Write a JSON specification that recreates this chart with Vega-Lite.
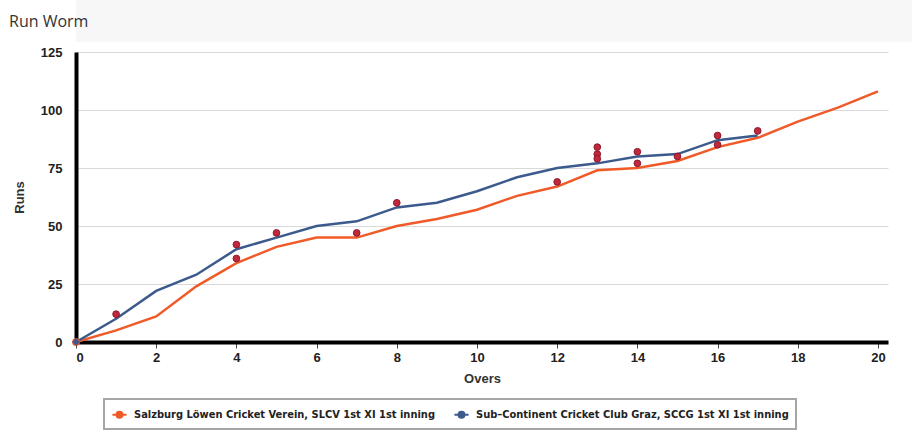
{
  "$schema": "https://vega.github.io/schema/vega-lite/v6.json",
  "padding": {"left": 9, "top": 0, "right": 0, "bottom": 0},
  "background": "white",
  "spacing": 4,
  "align": "none",
  "datasets": {
    "innings": [
      {"team": "Salzburg Löwen Cricket Verein, SLCV 1st XI 1st inning", "over": 0, "runs": 0},
      {"team": "Salzburg Löwen Cricket Verein, SLCV 1st XI 1st inning", "over": 1, "runs": 5},
      {"team": "Salzburg Löwen Cricket Verein, SLCV 1st XI 1st inning", "over": 2, "runs": 11},
      {"team": "Salzburg Löwen Cricket Verein, SLCV 1st XI 1st inning", "over": 3, "runs": 24},
      {"team": "Salzburg Löwen Cricket Verein, SLCV 1st XI 1st inning", "over": 4, "runs": 34},
      {"team": "Salzburg Löwen Cricket Verein, SLCV 1st XI 1st inning", "over": 5, "runs": 41},
      {"team": "Salzburg Löwen Cricket Verein, SLCV 1st XI 1st inning", "over": 6, "runs": 45},
      {"team": "Salzburg Löwen Cricket Verein, SLCV 1st XI 1st inning", "over": 7, "runs": 45},
      {"team": "Salzburg Löwen Cricket Verein, SLCV 1st XI 1st inning", "over": 8, "runs": 50},
      {"team": "Salzburg Löwen Cricket Verein, SLCV 1st XI 1st inning", "over": 9, "runs": 53},
      {"team": "Salzburg Löwen Cricket Verein, SLCV 1st XI 1st inning", "over": 10, "runs": 57},
      {"team": "Salzburg Löwen Cricket Verein, SLCV 1st XI 1st inning", "over": 11, "runs": 63},
      {"team": "Salzburg Löwen Cricket Verein, SLCV 1st XI 1st inning", "over": 12, "runs": 67},
      {"team": "Salzburg Löwen Cricket Verein, SLCV 1st XI 1st inning", "over": 13, "runs": 74},
      {"team": "Salzburg Löwen Cricket Verein, SLCV 1st XI 1st inning", "over": 14, "runs": 75},
      {"team": "Salzburg Löwen Cricket Verein, SLCV 1st XI 1st inning", "over": 15, "runs": 78},
      {"team": "Salzburg Löwen Cricket Verein, SLCV 1st XI 1st inning", "over": 16, "runs": 84},
      {"team": "Salzburg Löwen Cricket Verein, SLCV 1st XI 1st inning", "over": 17, "runs": 88},
      {"team": "Salzburg Löwen Cricket Verein, SLCV 1st XI 1st inning", "over": 18, "runs": 95},
      {"team": "Salzburg Löwen Cricket Verein, SLCV 1st XI 1st inning", "over": 19, "runs": 101},
      {"team": "Salzburg Löwen Cricket Verein, SLCV 1st XI 1st inning", "over": 20, "runs": 108},
      {"team": "Sub–Continent Cricket Club Graz, SCCG 1st XI 1st inning", "over": 0, "runs": 0},
      {"team": "Sub–Continent Cricket Club Graz, SCCG 1st XI 1st inning", "over": 1, "runs": 10},
      {"team": "Sub–Continent Cricket Club Graz, SCCG 1st XI 1st inning", "over": 2, "runs": 22},
      {"team": "Sub–Continent Cricket Club Graz, SCCG 1st XI 1st inning", "over": 3, "runs": 29},
      {"team": "Sub–Continent Cricket Club Graz, SCCG 1st XI 1st inning", "over": 4, "runs": 40},
      {"team": "Sub–Continent Cricket Club Graz, SCCG 1st XI 1st inning", "over": 5, "runs": 45},
      {"team": "Sub–Continent Cricket Club Graz, SCCG 1st XI 1st inning", "over": 6, "runs": 50},
      {"team": "Sub–Continent Cricket Club Graz, SCCG 1st XI 1st inning", "over": 7, "runs": 52},
      {"team": "Sub–Continent Cricket Club Graz, SCCG 1st XI 1st inning", "over": 8, "runs": 58},
      {"team": "Sub–Continent Cricket Club Graz, SCCG 1st XI 1st inning", "over": 9, "runs": 60},
      {"team": "Sub–Continent Cricket Club Graz, SCCG 1st XI 1st inning", "over": 10, "runs": 65},
      {"team": "Sub–Continent Cricket Club Graz, SCCG 1st XI 1st inning", "over": 11, "runs": 71},
      {"team": "Sub–Continent Cricket Club Graz, SCCG 1st XI 1st inning", "over": 12, "runs": 75},
      {"team": "Sub–Continent Cricket Club Graz, SCCG 1st XI 1st inning", "over": 13, "runs": 77},
      {"team": "Sub–Continent Cricket Club Graz, SCCG 1st XI 1st inning", "over": 14, "runs": 80},
      {"team": "Sub–Continent Cricket Club Graz, SCCG 1st XI 1st inning", "over": 15, "runs": 81},
      {"team": "Sub–Continent Cricket Club Graz, SCCG 1st XI 1st inning", "over": 16, "runs": 87},
      {"team": "Sub–Continent Cricket Club Graz, SCCG 1st XI 1st inning", "over": 17, "runs": 89}
    ],
    "wickets": [
      {"over": 1, "runs": 12},
      {"over": 4, "runs": 42},
      {"over": 4, "runs": 36},
      {"over": 5, "runs": 47},
      {"over": 7, "runs": 47},
      {"over": 8, "runs": 60},
      {"over": 12, "runs": 69},
      {"over": 13, "runs": 84},
      {"over": 13, "runs": 81},
      {"over": 13, "runs": 79},
      {"over": 14, "runs": 82},
      {"over": 14, "runs": 77},
      {"over": 15, "runs": 80},
      {"over": 16, "runs": 89},
      {"over": 16, "runs": 85},
      {"over": 17, "runs": 91}
    ]
  },
  "vconcat": [
    {
      "width": 903,
      "height": 42,
      "data": {"values": [{"label": "Run Worm"}]},
      "title": {
        "text": "Run Worm",
        "anchor": "start",
        "frame": "group",
        "orient": "top",
        "offset": -30,
        "dx": -67,
        "font": "Open Sans",
        "fontSize": 16,
        "fontWeight": "normal",
        "color": "#333333"
      },
      "mark": {"type": "text", "opacity": 0},
      "encoding": {"text": {"field": "label"}},
      "view": {"fill": "#f7f7f7", "stroke": null}
    },
    {
      "width": 812,
      "height": 290,
      "view": {"stroke": null},
      "layer": [
        {
          "data": {"name": "innings"},
          "mark": {"type": "line", "strokeWidth": 2.5},
          "encoding": {
            "x": {
              "field": "over",
              "type": "quantitative",
              "title": "Overs",
              "scale": {"domain": [0, 20.25], "nice": false},
              "axis": {"values": [0, 2, 4, 6, 8, 10, 12, 14, 16, 18, 20]}
            },
            "y": {
              "field": "runs",
              "type": "quantitative",
              "title": "Runs",
              "scale": {"domain": [0, 125], "nice": false},
              "axis": {"values": [0, 25, 50, 75, 100, 125], "grid": true, "ticks": false, "labelPadding": 14}
            },
            "color": {
              "field": "team",
              "type": "nominal",
              "title": null,
              "scale": {
                "domain": [
                  "Salzburg Löwen Cricket Verein, SLCV 1st XI 1st inning",
                  "Sub–Continent Cricket Club Graz, SCCG 1st XI 1st inning"
                ],
                "range": ["#f05a28", "#3c5a8c"]
              },
              "legend": {
                "orient": "none",
                "legendX": 28,
                "legendY": 399,
                "direction": "horizontal",
                "columns": 2,
                "columnPadding": 15,
                "padding": 7,
                "fillColor": "white",
                "strokeColor": "#a6a6a6",
                "symbolType": "M-1,0H1M0.42,0A0.42,0.42,0,1,1,-0.42,0A0.42,0.42,0,1,1,0.42,0Z",
                "symbolSize": 200,
                "symbolStrokeWidth": 2,
                "labelFont": "DejaVu Sans Condensed",
                "labelFontSize": 11,
                "labelFontWeight": "bold",
                "labelColor": "#222222",
                "labelOffset": 6,
                "labelLimit": 400,
                "encode": {
                  "legend": {"update": {"strokeWidth": {"value": 2}}},
                  "symbols": {
                    "update": {
                      "fill": {"scale": "color", "field": "value"},
                      "stroke": {"scale": "color", "field": "value"}
                    }
                  }
                }
              }
            },
            "order": {"field": "over"}
          }
        },
        {
          "data": {"name": "innings"},
          "transform": [{"filter": "datum.over == 0"}],
          "mark": {"type": "point", "filled": true, "size": 60, "opacity": 1},
          "encoding": {
            "x": {"field": "over", "type": "quantitative"},
            "y": {"field": "runs", "type": "quantitative"},
            "color": {"field": "team", "type": "nominal", "legend": null},
            "shape": {
              "field": "team",
              "type": "nominal",
              "scale": {"range": ["circle", "diamond"]},
              "legend": null
            }
          }
        },
        {
          "data": {"name": "wickets"},
          "mark": {
            "type": "circle",
            "size": 45,
            "fill": "#c0283c",
            "stroke": "#8e1a2b",
            "strokeWidth": 1,
            "opacity": 1
          },
          "encoding": {
            "x": {"field": "over", "type": "quantitative"},
            "y": {"field": "runs", "type": "quantitative"}
          }
        }
      ]
    }
  ],
  "config": {
    "font": "Liberation Sans",
    "axis": {
      "domainColor": "#000000",
      "domainWidth": 4,
      "labelFont": "Liberation Sans",
      "labelFontSize": 13,
      "labelFontWeight": "bold",
      "labelColor": "#222222",
      "titleFont": "Liberation Sans",
      "titleFontSize": 13,
      "titleFontWeight": "bold",
      "titleColor": "#333333",
      "gridColor": "#d9d9d9",
      "gridWidth": 1
    },
    "axisX": {
      "grid": false,
      "tickColor": "#444444",
      "tickSize": 6,
      "labelPadding": 3,
      "titlePadding": 8
    },
    "axisY": {
      "titlePadding": 14
    }
  }
}
